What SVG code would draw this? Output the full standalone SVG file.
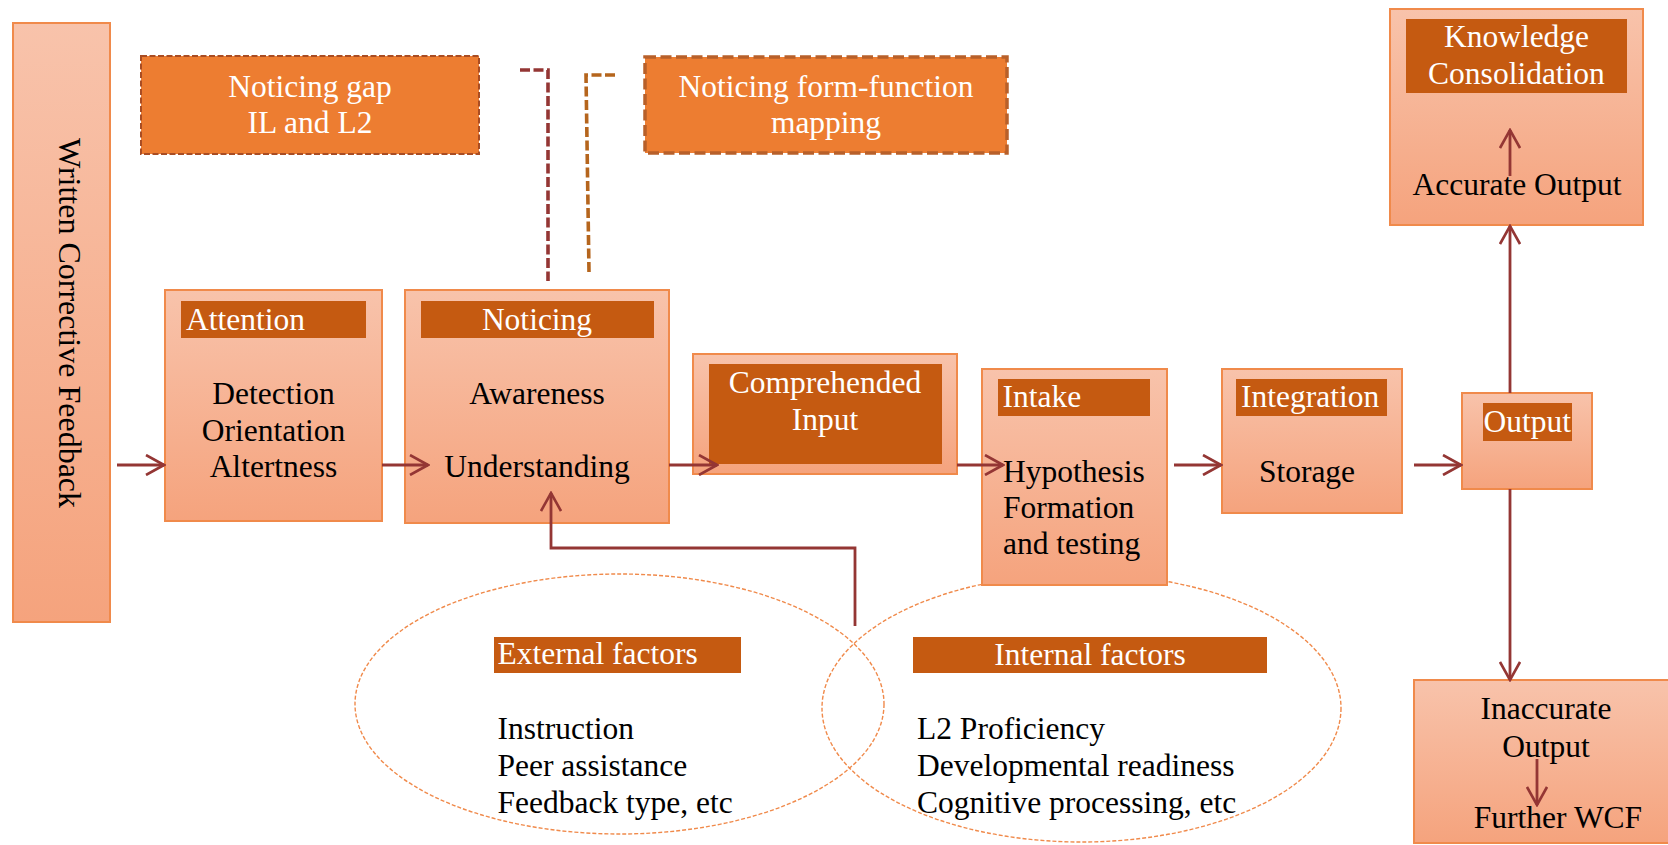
<svg xmlns="http://www.w3.org/2000/svg" width="1668" height="845" viewBox="0 0 1668 845">
  <defs>
    <linearGradient id="boxFill" x1="0" y1="0" x2="0" y2="1">
      <stop offset="0" stop-color="#f8c3ab"/>
      <stop offset="1" stop-color="#f5a37d"/>
    </linearGradient>
    <marker id="chev" viewBox="0 0 22 22" refX="20" refY="11" markerWidth="22" markerHeight="22" markerUnits="userSpaceOnUse" orient="auto">
      <path d="M2,1 L20,11 L2,21" fill="none" stroke="#943634" stroke-width="2.6"/>
    </marker>
    <style>
      text { font-family: "Liberation Serif", "Times New Roman", serif; font-size: 31.5px; fill: #000; }
      .box { fill: url(#boxFill); stroke: #f08a4b; stroke-width: 2; }
      .hdr { fill: #c55a11; }
      .wt { fill: #fff; }
      .mid { text-anchor: middle; }
      .link { fill: none; stroke: #943634; stroke-width: 2.8; }
      .arrow { marker-end: url(#chev); }
      .oval { fill: none; stroke: #f08a4b; stroke-width: 1.4; stroke-dasharray: 4 2; }
      .dash { fill: none; stroke-width: 3.6; stroke-dasharray: 10 3.5; }
    </style>
  </defs>

  <rect width="1668" height="845" fill="#fff"/>

  <!-- factor ovals -->
  <g id="external-factors">
    <ellipse class="oval" cx="619.5" cy="704" rx="264.5" ry="130"/>
    <rect class="hdr" x="494" y="637" width="247" height="36"/>
    <text class="wt" x="497.5" y="664">External factors</text>
    <text x="497.5" y="739">Instruction</text>
    <text x="497.5" y="776">Peer assistance</text>
    <text x="497.5" y="813">Feedback type, etc</text>
  </g>
  <g id="internal-factors">
    <ellipse class="oval" cx="1081.5" cy="708" rx="259.5" ry="134"/>
    <rect class="hdr" x="913" y="637" width="354" height="36"/>
    <text class="wt mid" x="1090" y="665">Internal factors</text>
    <text x="917" y="739">L2 Proficiency</text>
    <text x="917" y="776">Developmental readiness</text>
    <text x="917" y="813">Cognitive processing, etc</text>
  </g>

  <!-- source -->
  <g id="wcf">
    <rect class="box" x="13" y="23" width="97" height="599"/>
    <text class="mid" transform="translate(59,323) rotate(90)" style="font-size:32px">Written Corrective Feedback</text>
  </g>

  <!-- top callouts -->
  <g id="noticing-gap">
    <rect x="141" y="56" width="338" height="98" fill="#ed7d31" stroke="#a94d23" stroke-width="2" stroke-dasharray="6 2.5"/>
    <text class="wt mid" x="310" y="97">Noticing gap</text>
    <text class="wt mid" x="310" y="133">IL and L2</text>
  </g>
  <g id="form-function">
    <rect x="645" y="57" width="362" height="96" fill="#ed7d31" stroke="#b8602a" stroke-width="3.5" stroke-dasharray="11 4.5"/>
    <text class="wt mid" x="826" y="97">Noticing form-function</text>
    <text class="wt mid" x="826" y="133">mapping</text>
  </g>

  <!-- stages -->
  <g id="attention">
    <rect class="box" x="165" y="290" width="217" height="231"/>
    <rect class="hdr" x="181" y="301" width="185" height="37"/>
    <text class="wt" x="186" y="330">Attention</text>
    <text class="mid" x="273.5" y="404">Detection</text>
    <text class="mid" x="273.5" y="441">Orientation</text>
    <text class="mid" x="273.5" y="477">Altertness</text>
  </g>
  <g id="noticing">
    <rect class="box" x="405" y="290" width="264" height="233"/>
    <rect class="hdr" x="421" y="301" width="233" height="37"/>
    <text class="wt mid" x="537" y="330">Noticing</text>
    <text class="mid" x="537" y="404">Awareness</text>
    <text class="mid" x="537" y="477">Understanding</text>
  </g>
  <g id="comprehended-input">
    <rect class="box" x="693" y="354" width="264" height="120"/>
    <rect class="hdr" x="709" y="364" width="233" height="100"/>
    <text class="wt mid" x="825" y="393">Comprehended</text>
    <text class="wt mid" x="825" y="430">Input</text>
  </g>
  <g id="intake">
    <rect class="box" x="982" y="369" width="185" height="216"/>
    <rect class="hdr" x="998" y="379" width="152" height="37"/>
    <text class="wt" x="1002.5" y="407">Intake</text>
    <text x="1003" y="482">Hypothesis</text>
    <text x="1003" y="518">Formation</text>
    <text x="1003" y="554">and testing</text>
  </g>
  <g id="integration">
    <rect class="box" x="1222" y="369" width="180" height="144"/>
    <rect class="hdr" x="1236" y="379" width="151" height="37"/>
    <text class="wt" x="1241" y="407">Integration</text>
    <text class="mid" x="1307" y="482">Storage</text>
  </g>
  <g id="output">
    <rect class="box" x="1462" y="393" width="130" height="96"/>
    <rect class="hdr" x="1483" y="403" width="89" height="38"/>
    <text class="wt" x="1483.5" y="432">Output</text>
  </g>
  <g id="knowledge-consolidation">
    <rect class="box" x="1390" y="9" width="253" height="216"/>
    <rect class="hdr" x="1406" y="19" width="221" height="74"/>
    <text class="wt mid" x="1516.5" y="47">Knowledge</text>
    <text class="wt mid" x="1516.5" y="84">Consolidation</text>
    <text class="mid" x="1517" y="195">Accurate Output</text>
    <line class="link arrow" x1="1510" y1="176" x2="1510" y2="130"/>
  </g>
  <g id="inaccurate-output">
    <rect class="box" x="1414" y="680" width="262" height="163"/>
    <text class="mid" x="1546" y="719">Inaccurate</text>
    <text class="mid" x="1546" y="757">Output</text>
    <text class="mid" x="1558" y="828">Further WCF</text>
    <line class="link arrow" x1="1537" y1="759" x2="1537" y2="805"/>
  </g>

  <!-- connectors -->
  <g id="connectors">
    <line class="link arrow" x1="117" y1="465" x2="164" y2="465"/>
    <line class="link arrow" x1="382" y1="465" x2="428" y2="465"/>
    <line class="link arrow" x1="669" y1="465" x2="717" y2="465"/>
    <line class="link arrow" x1="957" y1="465" x2="1003" y2="465"/>
    <line class="link arrow" x1="1174" y1="465" x2="1221" y2="465"/>
    <line class="link arrow" x1="1414" y1="465" x2="1461" y2="465"/>
    <line class="link arrow" x1="1510" y1="393" x2="1510" y2="226"/>
    <line class="link arrow" x1="1510" y1="489" x2="1510" y2="680"/>
    <polyline class="link arrow" points="855,626 855,548 551,548 551,493"/>
    <polyline class="dash" points="520,70 548,70 548,281" stroke="#943634"/>
    <polyline class="dash" points="615,75 586,75 589,272" stroke="#b5651d"/>
  </g>
</svg>
